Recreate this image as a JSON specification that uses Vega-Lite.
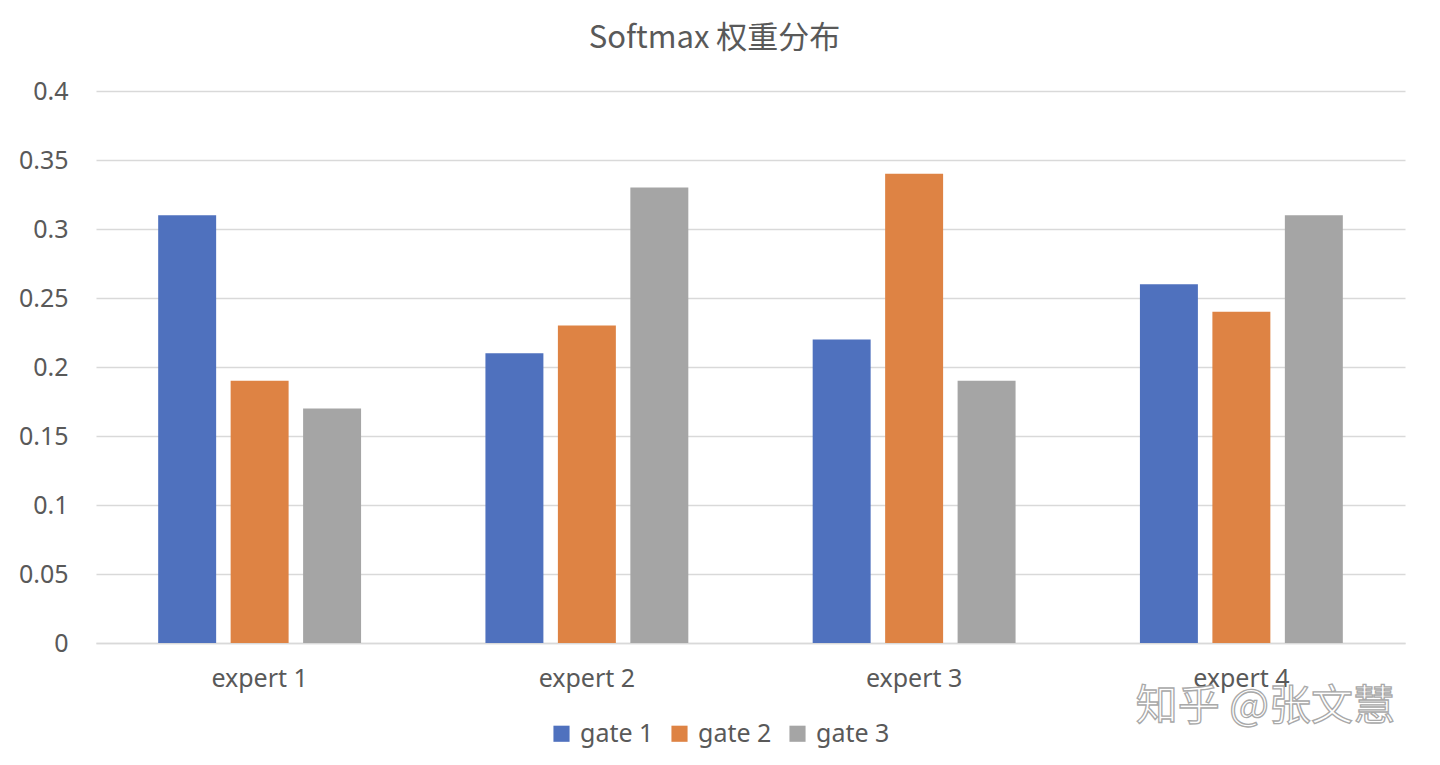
{
  "$schema": "https://vega.github.io/schema/vega-lite/v6.json",
  "autosize": "none",
  "width": 1309,
  "height": 552,
  "padding": {"left": 96, "top": 91, "right": 35, "bottom": 122},
  "background": "#ffffff",
  "title": {
    "text": "Softmax 权重分布",
    "font": "Noto Sans CJK SC",
    "fontSize": 31,
    "fontWeight": "normal",
    "color": "#595959",
    "anchor": "middle",
    "dx": -36,
    "offset": 24
  },
  "config": {
    "view": {"stroke": null},
    "font": "Noto Sans"
  },
  "datasets": {
    "bars": [
      {"expert": "expert 1", "gate": "gate 1", "weight": 0.31},
      {"expert": "expert 1", "gate": "gate 2", "weight": 0.19},
      {"expert": "expert 1", "gate": "gate 3", "weight": 0.17},
      {"expert": "expert 2", "gate": "gate 1", "weight": 0.21},
      {"expert": "expert 2", "gate": "gate 2", "weight": 0.23},
      {"expert": "expert 2", "gate": "gate 3", "weight": 0.33},
      {"expert": "expert 3", "gate": "gate 1", "weight": 0.22},
      {"expert": "expert 3", "gate": "gate 2", "weight": 0.34},
      {"expert": "expert 3", "gate": "gate 3", "weight": 0.19},
      {"expert": "expert 4", "gate": "gate 1", "weight": 0.26},
      {"expert": "expert 4", "gate": "gate 2", "weight": 0.24},
      {"expert": "expert 4", "gate": "gate 3", "weight": 0.31}
    ],
    "mark": [
      {"expert": "expert 4", "weight": 0, "label": "知乎 @张文慧"}
    ]
  },
  "layer": [
    {
      "data": {"name": "bars"},
      "mark": {"type": "bar"},
      "encoding": {
        "x": {
          "field": "expert",
          "type": "nominal",
          "sort": null,
          "scale": {"paddingInner": 0.38, "paddingOuter": 0.19},
          "axis": {
            "title": null,
            "labelAngle": 0,
            "labelFontSize": 25,
            "labelColor": "#595959",
            "labelPadding": 23,
            "ticks": false,
            "domainColor": "#d9d9d9",
            "domainWidth": 1.5
          }
        },
        "xOffset": {
          "field": "gate",
          "type": "nominal",
          "scale": {"paddingInner": 0.2, "paddingOuter": 0}
        },
        "y": {
          "field": "weight",
          "type": "quantitative",
          "scale": {"domain": [0, 0.4], "nice": false},
          "axis": {
            "title": null,
            "values": [0, 0.05, 0.1, 0.15, 0.2, 0.25, 0.3, 0.35, 0.4],
            "labelExpr": "datum.value == 0 ? '0' : format(datum.value, '')",
            "labelFontSize": 25,
            "labelColor": "#595959",
            "labelPadding": 28,
            "ticks": false,
            "domain": false,
            "gridColor": "#d9d9d9",
            "gridWidth": 1.5
          }
        },
        "color": {
          "field": "gate",
          "type": "nominal",
          "scale": {"domain": ["gate 1", "gate 2", "gate 3"], "range": ["#4F71BE", "#DE8344", "#A5A5A5"]},
          "legend": {
            "title": null,
            "orient": "none",
            "direction": "horizontal",
            "legendX": 453,
            "legendY": 630,
            "symbolType": "square",
            "symbolSize": 260,
            "symbolStrokeWidth": 0,
            "labelFontSize": 25,
            "labelColor": "#595959",
            "labelOffset": 6,
            "columnPadding": 13
          }
        }
      }
    },
    {
      "data": {"name": "mark"},
      "mark": {
        "type": "text",
        "font": "Noto Sans CJK SC",
        "fontSize": 42,
        "color": "#ffffff",
        "stroke": "#a0a0a0",
        "strokeWidth": 1.3,
        "dx": 24,
        "dy": 64,
        "opacity": 0.9
      },
      "encoding": {
        "x": {"field": "expert", "type": "nominal", "sort": null},
        "y": {"field": "weight", "type": "quantitative"},
        "text": {"field": "label"}
      }
    }
  ]
}
